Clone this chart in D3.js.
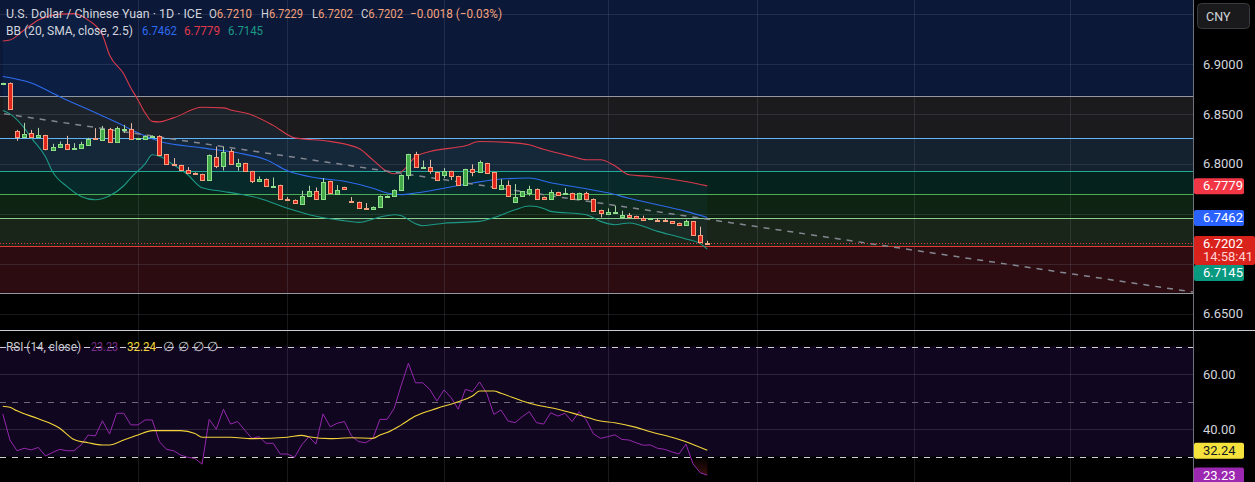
<!DOCTYPE html>
<html>
<head>
<meta charset="utf-8">
<script src="https://cdn.jsdelivr.net/npm/d3@7/dist/d3.min.js"></script>
<style>
  html, body { margin: 0; padding: 0; background: #000; }
  svg { display: block; font-family: Roboto, "Noto Sans", sans-serif; }
</style>
</head>
<body>
<svg id="chart" width="1255" height="482"></svg>
<script>
// daily candles, USD/CNY
const opens = [6.8805, 6.8810, 6.8330, 6.8273, 6.8310, 6.8265, 6.8285, 6.8133, 6.8167, 6.8200,
  6.8157, 6.8157, 6.8193, 6.8255, 6.8240, 6.8347, 6.8217, 6.8347, 6.8353, 6.8255,
  6.8257, 6.8280, 6.8283, 6.8097, 6.8000, 6.7987, 6.7940, 6.7905, 6.7897, 6.7837,
  6.8073, 6.7987, 6.8125, 6.7987, 6.8007, 6.7927, 6.7827, 6.7850, 6.7777, 6.7787,
  6.7643, 6.7640, 6.7603, 6.7677, 6.7730, 6.7647, 6.7827, 6.7703, 6.7767, 6.7630,
  6.7617, 6.7560, 6.7547, 6.7567, 6.7677, 6.7677, 6.7737, 6.7890, 6.8097, 6.7965,
  6.7967, 6.7917, 6.7887, 6.7927, 6.7877, 6.7790, 6.7947, 6.7915, 6.8007, 6.7913,
  6.7750, 6.7790, 6.7623, 6.7670, 6.7713, 6.7750, 6.7670, 6.7643, 6.7717, 6.7700,
  6.7707, 6.7643, 6.7707, 6.7650, 6.7537, 6.7500, 6.7517, 6.7473, 6.7490, 6.7477,
  6.7457, 6.7450, 6.7440, 6.7437, 6.7423, 6.7407, 6.7387, 6.7423, 6.7287, 6.7210];
const highs = [6.8812, 6.8815, 6.8340, 6.8410, 6.8340, 6.8360, 6.8290, 6.8200, 6.8223, 6.8280,
  6.8207, 6.8220, 6.8260, 6.8357, 6.8380, 6.8360, 6.8373, 6.8390, 6.8407, 6.8260,
  6.8285, 6.8285, 6.8285, 6.8097, 6.8057, 6.7990, 6.7967, 6.7915, 6.7900, 6.8093,
  6.8173, 6.8173, 6.8147, 6.8050, 6.8010, 6.7930, 6.7873, 6.7853, 6.7863, 6.7790,
  6.7667, 6.7643, 6.7730, 6.7780, 6.7763, 6.7857, 6.7830, 6.7787, 6.7770, 6.7667,
  6.7620, 6.7607, 6.7573, 6.7683, 6.7683, 6.7743, 6.7893, 6.8100, 6.8120, 6.8033,
  6.8040, 6.7920, 6.7957, 6.7930, 6.7880, 6.7950, 6.7995, 6.8033, 6.8010, 6.7915,
  6.7847, 6.7833, 6.7797, 6.7725, 6.7780, 6.7753, 6.7672, 6.7740, 6.7720, 6.7757,
  6.7710, 6.7710, 6.7720, 6.7653, 6.7540, 6.7553, 6.7580, 6.7530, 6.7507, 6.7480,
  6.7480, 6.7456, 6.7457, 6.7457, 6.7425, 6.7410, 6.7440, 6.7425, 6.7370, 6.7229];
const lows = [6.8800, 6.8545, 6.8230, 6.8270, 6.8265, 6.8263, 6.8135, 6.8130, 6.8165, 6.8150,
  6.8155, 6.8153, 6.8190, 6.8240, 6.8240, 6.8215, 6.8215, 6.8310, 6.8255, 6.8253,
  6.8255, 6.8278, 6.8095, 6.7995, 6.7993, 6.7935, 6.7908, 6.7893, 6.7835, 6.7835,
  6.7957, 6.7933, 6.7990, 6.7930, 6.7925, 6.7807, 6.7825, 6.7775, 6.7775, 6.7645,
  6.7635, 6.7605, 6.7600, 6.7675, 6.7645, 6.7645, 6.7700, 6.7700, 6.7745, 6.7620,
  6.7550, 6.7550, 6.7545, 6.7565, 6.7675, 6.7675, 6.7735, 6.7843, 6.7965, 6.7963,
  6.7900, 6.7835, 6.7857, 6.7837, 6.7788, 6.7788, 6.7875, 6.7913, 6.7905, 6.7748,
  6.7748, 6.7680, 6.7620, 6.7668, 6.7680, 6.7650, 6.7645, 6.7640, 6.7685, 6.7698,
  6.7640, 6.7640, 6.7640, 6.7530, 6.7463, 6.7498, 6.7515, 6.7460, 6.7470, 6.7455,
  6.7430, 6.7447, 6.7425, 6.7425, 6.7398, 6.7385, 6.7385, 6.7285, 6.7210, 6.7202];
const closes = [6.8810, 6.8550, 6.8270, 6.8300, 6.8270, 6.8290, 6.8140, 6.8165, 6.8200, 6.8153,
  6.8160, 6.8197, 6.8253, 6.8245, 6.8347, 6.8217, 6.8357, 6.8350, 6.8257, 6.8258,
  6.8283, 6.8283, 6.8097, 6.8000, 6.7995, 6.7937, 6.7910, 6.7895, 6.7837, 6.8087,
  6.7987, 6.8123, 6.7995, 6.8013, 6.7930, 6.7823, 6.7850, 6.7777, 6.7780, 6.7647,
  6.7637, 6.7607, 6.7680, 6.7730, 6.7647, 6.7817, 6.7703, 6.7740, 6.7747, 6.7623,
  6.7553, 6.7553, 6.7570, 6.7680, 6.7680, 6.7740, 6.7890, 6.8097, 6.7967, 6.7967,
  6.7923, 6.7837, 6.7927, 6.7877, 6.7790, 6.7947, 6.7915, 6.8015, 6.7907, 6.7750,
  6.7790, 6.7683, 6.7670, 6.7723, 6.7750, 6.7653, 6.7647, 6.7717, 6.7687, 6.7703,
  6.7643, 6.7707, 6.7643, 6.7533, 6.7503, 6.7520, 6.7520, 6.7490, 6.7473, 6.7457,
  6.7433, 6.7453, 6.7427, 6.7427, 6.7400, 6.7387, 6.7423, 6.7287, 6.7220, 6.7202];

// Bollinger bands, [bar index, price]
const bbBasis = [[0, 6.8875], [4, 6.8810], [8, 6.8673], [14, 6.8480], [17, 6.8380], [19, 6.8310],
  [21, 6.8250], [22, 6.8225], [28, 6.8160], [33, 6.8110], [37, 6.8040], [40, 6.7930], [44, 6.7860],
  [48, 6.7825], [52, 6.7755], [54, 6.7707], [56, 6.7690], [58, 6.7707], [62, 6.7755], [66, 6.7807],
  [70, 6.7847], [74, 6.7857], [77, 6.7810], [82, 6.7750], [85, 6.7710], [88, 6.7655], [92, 6.7590],
  [96, 6.7523], [99, 6.7462]];
const bbUpper = [[0, 6.9230], [1, 6.9240], [3, 6.9340], [5, 6.9440], [8, 6.9500], [10, 6.9505],
  [12, 6.9440], [14, 6.9290], [15, 6.9090], [17, 6.8900], [18, 6.8760], [19, 6.8640], [20, 6.8510],
  [21, 6.8425], [22, 6.8420], [24, 6.8460], [28, 6.8567], [31, 6.8560], [32, 6.8540], [35, 6.8490],
  [38, 6.8385], [41, 6.8260], [46, 6.8225], [50, 6.8155], [52, 6.8040], [54, 6.7923], [55, 6.7900],
  [56, 6.7920], [58, 6.8070], [60, 6.8123], [65, 6.8180], [67, 6.8223], [71, 6.8215], [74, 6.8190],
  [76, 6.8145], [80, 6.8073], [82, 6.8040], [84, 6.8040], [86, 6.7980], [88, 6.7890], [91, 6.7873],
  [96, 6.7823], [99, 6.7779]];
const bbLower = [[0, 6.8535], [1, 6.8500], [3, 6.8360], [4, 6.8260], [6, 6.8070], [7, 6.7920],
  [9, 6.7773], [11, 6.7673], [13, 6.7640], [15, 6.7680], [17, 6.7780], [18, 6.7860], [20, 6.8000],
  [21, 6.8090], [22, 6.8075], [24, 6.7990], [26, 6.7890], [28, 6.7760], [31, 6.7723], [33, 6.7700],
  [36, 6.7655], [40, 6.7555], [44, 6.7475], [48, 6.7430], [50, 6.7413], [53, 6.7467], [55, 6.7490],
  [56, 6.7480], [58, 6.7400], [59, 6.7380], [62, 6.7405], [67, 6.7423], [69, 6.7460], [72, 6.7540],
  [74, 6.7577], [76, 6.7553], [77, 6.7523], [82, 6.7490], [84, 6.7423], [86, 6.7390], [88, 6.7407],
  [92, 6.7323], [96, 6.7247], [98, 6.7200], [99, 6.7145]];

// RSI(14) per bar and its moving average ([bar index, value])
const rsi = [45.5, 36.0, 32.1, 33.0, 32.4, 33.3, 30.2, 31.5, 32.6, 32.1,
  32.1, 34.2, 37.8, 37.5, 43.0, 38.2, 45.7, 45.7, 41.5, 41.5,
  43.3, 43.3, 35.4, 32.6, 32.1, 30.5, 29.7, 29.3, 27.2, 43.5,
  39.9, 47.2, 41.8, 42.7, 39.6, 36.6, 37.2, 34.8, 34.8, 30.9,
  30.9, 29.7, 34.2, 37.2, 34.5, 45.5, 40.8, 42.1, 42.7, 37.5,
  35.4, 35.0, 36.6, 43.5, 43.5, 47.5, 56.0, 63.9, 56.8, 56.8,
  54.4, 50.2, 54.2, 51.4, 47.2, 54.4, 53.6, 57.1, 53.0, 45.3,
  46.9, 42.9, 42.3, 44.5, 46.3, 42.3, 41.8, 45.9, 44.7, 45.7,
  42.7, 46.3, 43.3, 38.2, 36.6, 37.2, 37.9, 36.2, 36.0, 35.0,
  34.1, 34.2, 33.0, 32.6, 31.7, 30.9, 34.5, 27.3, 24.1, 23.23];
const rsiMa = [[0, 48.3], [1, 47.9], [2, 46.6], [5, 43.7], [8, 40.3], [10, 36.2], [12, 35.0],
  [14, 34.2], [15, 34.2], [17, 36.0], [19, 37.8], [21, 39.4], [25, 39.4], [27, 38.4], [28, 37.0],
  [32, 37.0], [35, 36.5], [40, 37.0], [42, 37.7], [43, 37.2], [46, 36.5], [49, 36.8], [52, 36.6],
  [53, 37.8], [54, 38.7], [56, 41.5], [58, 44.7], [61, 47.5], [64, 49.9], [66, 52.0], [67, 53.8],
  [69, 53.8], [70, 53.0], [73, 50.2], [75, 48.7], [78, 47.2], [81, 45.1], [84, 42.9], [86, 42.3],
  [89, 40.6], [91, 39.0], [94, 37.0], [96, 35.4], [99, 32.24]];

// fibonacci retracement drawing: anchors (bar index) and prices
const fibAnchorIdx = [-16.5, 168];
const fibPrices = [6.8680, 6.6707];
const fibLevels = [1, 0.786, 0.618, 0.5, 0.382, 0.236, 0];
const fibLineColors = ["#9598a1", "#64b5f6", "#22ab94", "#4caf50", "#8fd18f", "#e53935", "#9598a1"];
const fibBandColors = ["#1b1b1e", "#14212f", "#06221d", "#0f2312", "#192518", "#2c0c11"];

// axis ticks
const priceGrid = [6.65, 6.70, 6.75, 6.80, 6.85, 6.90, 6.95];
const priceLabels = [6.65, 6.80, 6.85, 6.90];
const rsiGrid = [40, 60];
const rsiLevels = [70, 50, 30];
const monthIdx = [19, 40, 62, 85, 106, 128, 150];

const W = 1255;
const H = 482;
const AXIS_X = 1193;
const SPLIT = 330;

const svg = d3.select("#chart");
const x = d3.scaleLinear().domain([0, 99]).range([2.8, 707.3]);
const yPrice = d3.scaleLinear().domain([6.65, 6.90]).range([313.5, 64]);
const yRsi = d3.scaleLinear().domain([40, 60]).range([429, 374]);
const fibPrice = (lv) => fibPrices[1] + lv * (fibPrices[0] - fibPrices[1]);

const defs = svg.append("defs");
defs.append("clipPath").attr("id", "clip-price")
  .append("rect").attr("x", 0).attr("y", 0).attr("width", AXIS_X).attr("height", SPLIT);
defs.append("clipPath").attr("id", "clip-rsi")
  .append("rect").attr("x", 0).attr("y", SPLIT + 1).attr("width", AXIS_X).attr("height", H - SPLIT - 1);
defs.append("clipPath").attr("id", "clip-os")
  .append("rect").attr("x", 0).attr("y", yRsi(30)).attr("width", AXIS_X).attr("height", H - yRsi(30));
const osGrad = defs.append("linearGradient").attr("id", "os-grad")
  .attr("gradientUnits", "userSpaceOnUse")
  .attr("x1", 0).attr("x2", 0).attr("y1", yRsi(30)).attr("y2", yRsi(20));
osGrad.append("stop").attr("offset", 0).attr("stop-color", "#e8402a").attr("stop-opacity", 0);
osGrad.append("stop").attr("offset", 1).attr("stop-color", "#e8402a").attr("stop-opacity", 0.35);

svg.append("rect").attr("width", W).attr("height", H).attr("fill", "#000");

// ---------- price pane ----------
const pricePane = svg.append("g").attr("clip-path", "url(#clip-price)");

pricePane.append("rect")
  .attr("x", 0).attr("y", 0).attr("width", AXIS_X)
  .attr("height", yPrice(fibPrice(1)))
  .attr("fill", "#0b1838");

pricePane.append("g").selectAll("rect")
  .data(fibLevels.slice(0, -1))
  .join("rect")
  .attr("x", 0)
  .attr("width", AXIS_X)
  .attr("y", (lv) => yPrice(fibPrice(lv)))
  .attr("height", (lv, i) => yPrice(fibPrice(fibLevels[i + 1])) - yPrice(fibPrice(lv)))
  .attr("fill", (lv, i) => fibBandColors[i]);

const gridColor = "rgba(150,155,170,0.17)";
pricePane.append("g").selectAll("line")
  .data(priceGrid)
  .join("line")
  .attr("x1", 0).attr("x2", AXIS_X)
  .attr("y1", (p) => Math.round(yPrice(p)) + 0.5)
  .attr("y2", (p) => Math.round(yPrice(p)) + 0.5)
  .attr("stroke", gridColor);

pricePane.append("g").selectAll("line")
  .data(monthIdx)
  .join("line")
  .attr("x1", (i) => Math.round(x(i)) + 0.5)
  .attr("x2", (i) => Math.round(x(i)) + 0.5)
  .attr("y1", 0).attr("y2", SPLIT)
  .attr("stroke", gridColor);

pricePane.append("g").selectAll("line")
  .data(fibLevels)
  .join("line")
  .attr("x1", 0).attr("x2", AXIS_X)
  .attr("y1", (lv) => Math.round(yPrice(fibPrice(lv))) + 0.5)
  .attr("y2", (lv) => Math.round(yPrice(fibPrice(lv))) + 0.5)
  .attr("stroke", (lv, i) => fibLineColors[i])
  .attr("stroke-width", 1.2);

// band fill between upper and lower
const bandLine = d3.line()
  .x((d) => x(d[0]))
  .y((d) => yPrice(d[1]));
pricePane.append("path")
  .attr("d", bandLine([...bbUpper, ...bbLower.slice().reverse()]) + "Z")
  .attr("fill", "rgba(33,150,243,0.06)");

const smoothLine = d3.line()
  .x((d) => x(d[0]))
  .y((d) => yPrice(d[1]))
  .curve(d3.curveMonotoneX);

[[bbUpper, "#d83a4c"], [bbBasis, "#2e6bf0"], [bbLower, "#1c9a86"]].forEach(([series, color]) => {
  pricePane.append("path")
    .attr("d", smoothLine(series))
    .attr("fill", "none")
    .attr("stroke", color)
    .attr("stroke-width", 1.1);
});

// fib trend line (dashed)
pricePane.append("line")
  .attr("x1", x(fibAnchorIdx[0])).attr("y1", yPrice(fibPrices[0]))
  .attr("x2", x(fibAnchorIdx[1])).attr("y2", yPrice(fibPrices[1]))
  .attr("stroke", "#83868f")
  .attr("stroke-width", 1.5)
  .attr("stroke-dasharray", "6,6");

// last price line
const lastClose = closes[closes.length - 1];
pricePane.append("line")
  .attr("x1", 0).attr("x2", AXIS_X)
  .attr("y1", Math.round(yPrice(lastClose)) + 0.5)
  .attr("y2", Math.round(yPrice(lastClose)) + 0.5)
  .attr("stroke", "#f23645")
  .attr("stroke-dasharray", "1,2");

// candles
const candles = closes.map((c, i) => ({ i, o: opens[i], h: highs[i], l: lows[i], c }));
const upFill = "#43a847", upStroke = "#8fdf8c", upWick = "#a9d4a6";
const dnFill = "#e0261c", dnStroke = "#f5a07e", dnWick = "#e6b9a9";

const candleLayer = pricePane.append("g");
candleLayer.selectAll("line")
  .data(candles)
  .join("line")
  .attr("x1", (d) => Math.round(x(d.i)) + 0.5)
  .attr("x2", (d) => Math.round(x(d.i)) + 0.5)
  .attr("y1", (d) => yPrice(d.h))
  .attr("y2", (d) => yPrice(d.l))
  .attr("stroke", (d) => (d.c >= d.o ? upWick : dnWick));

candleLayer.selectAll("rect")
  .data(candles)
  .join("rect")
  .attr("x", (d) => Math.round(x(d.i)) - 1.5)
  .attr("width", 4)
  .attr("y", (d) => Math.round(yPrice(Math.max(d.o, d.c))) + 0.5)
  .attr("height", (d) => Math.max(1, Math.round(Math.abs(yPrice(d.o) - yPrice(d.c)))))
  .attr("fill", (d) => (d.c >= d.o ? upFill : dnFill))
  .attr("stroke", (d) => (d.c >= d.o ? upStroke : dnStroke));

// ---------- RSI pane ----------
const rsiPane = svg.append("g").attr("clip-path", "url(#clip-rsi)");

rsiPane.append("rect")
  .attr("x", 0).attr("width", AXIS_X)
  .attr("y", yRsi(70)).attr("height", yRsi(30) - yRsi(70))
  .attr("fill", "#11061f");

rsiPane.append("g").selectAll("line")
  .data(rsiGrid)
  .join("line")
  .attr("x1", 0).attr("x2", AXIS_X)
  .attr("y1", (v) => Math.round(yRsi(v)) + 0.5)
  .attr("y2", (v) => Math.round(yRsi(v)) + 0.5)
  .attr("stroke", "rgba(150,140,170,0.22)");

rsiPane.append("g").selectAll("line")
  .data(monthIdx)
  .join("line")
  .attr("x1", (i) => Math.round(x(i)) + 0.5)
  .attr("x2", (i) => Math.round(x(i)) + 0.5)
  .attr("y1", SPLIT).attr("y2", H)
  .attr("stroke", gridColor);

rsiPane.append("g").selectAll("line")
  .data(rsiLevels)
  .join("line")
  .attr("x1", 0).attr("x2", AXIS_X)
  .attr("y1", (v) => Math.round(yRsi(v)) + 0.5)
  .attr("y2", (v) => Math.round(yRsi(v)) + 0.5)
  .attr("stroke", (v) => (v === 50 ? "#6e6a78" : "#cfcfcf"))
  .attr("stroke-dasharray", "6,6");

rsiPane.append("path")
  .attr("clip-path", "url(#clip-os)")
  .attr("d", d3.area().x((v, i) => x(i)).y0(yRsi(30)).y1((v) => yRsi(v))(rsi))
  .attr("fill", "url(#os-grad)");

rsiPane.append("path")
  .attr("d", d3.line().x((v, i) => x(i)).y((v) => yRsi(v))(rsi))
  .attr("fill", "none")
  .attr("stroke", "#9428ad")
  .attr("stroke-width", 1);

rsiPane.append("path")
  .attr("d", d3.line().x((d) => x(d[0])).y((d) => yRsi(d[1])).curve(d3.curveMonotoneX)(rsiMa))
  .attr("fill", "none")
  .attr("stroke", "#f2d43a")
  .attr("stroke-width", 1.1);

// ---------- right axis ----------
svg.append("rect").attr("x", AXIS_X).attr("y", 0).attr("width", W - AXIS_X).attr("height", H).attr("fill", "#000");

const priceAxis = svg.append("g")
  .attr("transform", `translate(${AXIS_X},0)`)
  .call(d3.axisRight(yPrice).tickValues(priceLabels).tickSize(0).tickPadding(10).tickFormat(d3.format(".4f")));
const rsiAxis = svg.append("g")
  .attr("transform", `translate(${AXIS_X},0)`)
  .call(d3.axisRight(yRsi).tickValues(rsiGrid).tickSize(0).tickPadding(10).tickFormat(d3.format(".2f")));
[priceAxis, rsiAxis].forEach((ax) => {
  ax.select(".domain").remove();
  ax.selectAll("text")
    .attr("fill", "#d1d4dc")
    .attr("font-size", 13)
    .attr("font-family", "Roboto, 'Noto Sans', sans-serif");
});

svg.append("line")
  .attr("x1", AXIS_X + 0.5).attr("x2", AXIS_X + 0.5)
  .attr("y1", 0).attr("y2", H)
  .attr("stroke", "#6f727c");
svg.append("line")
  .attr("x1", 0).attr("x2", W)
  .attr("y1", SPLIT + 0.5).attr("y2", SPLIT + 0.5)
  .attr("stroke", "#c9ccd4");

// value tags on the axis, pushed down where they would overlap
const lastOf = (series) => series[series.length - 1][1];
const priceTags = [
  { v: lastOf(bbUpper), fill: "#f23645", text: "#ffffff" },
  { v: lastOf(bbBasis), fill: "#2962ff", text: "#ffffff" },
  { v: lastClose, fill: "#d9221c", text: "#ffffff", sub: "14:58:41", wide: true },
  { v: lastOf(bbLower), fill: "#089981", text: "#ffffff" }
];
const rsiTags = [
  { v: lastOf(rsiMa), fill: "#f5e23c", text: "#131722" },
  { v: rsi[rsi.length - 1], fill: "#9c27b0", text: "#ffffff" }
];

function drawTags(tags, scale, fmt) {
  let floor = -Infinity;
  tags.slice().sort((a, b) => scale(a.v) - scale(b.v)).forEach((t) => {
    const h = t.sub ? 29 : 16;
    const top = Math.max(scale(t.v) - 7.5, floor);
    floor = top + h;
    const g = svg.append("g");
    g.append("rect")
      .attr("x", AXIS_X + 1).attr("y", top)
      .attr("width", t.wide ? W - AXIS_X - 1 : 50).attr("height", h)
      .attr("rx", 2)
      .attr("fill", t.fill);
    g.append("text")
      .attr("x", AXIS_X + 10).attr("y", top + 12)
      .attr("fill", t.text).attr("font-size", 13)
      .text(d3.format(fmt)(t.v));
    if (t.sub) {
      g.append("text")
        .attr("x", AXIS_X + 10).attr("y", top + 25)
        .attr("fill", "#ffd2d2").attr("font-size", 13)
        .text(t.sub);
    }
  });
}
drawTags(priceTags, yPrice, ".4f");
drawTags(rsiTags, yRsi, ".2f");

// currency box
svg.append("rect")
  .attr("x", 1197.5).attr("y", 3.5).attr("width", 52).attr("height", 25).attr("rx", 4)
  .attr("fill", "#1a1a1c").attr("stroke", "#3a3b40");
svg.append("text")
  .attr("x", 1206).attr("y", 20.5)
  .attr("fill", "#d1d4dc").attr("font-size", 12.5)
  .text("CNY");

// ---------- legends ----------
const fmt4 = d3.format(".4f");
const last = candles[candles.length - 1];
const change = closes[99] - closes[98];
const minus = (s) => s.replace("-", "\u2212");
const ohlcColor = "#f4a27c";
const labelColor = "#d1d4dc";
// [x, y, prefix, text, colour, width]
const legendRows = [
  [6, 18, "", "U.S. Dollar / Chinese Yuan \u00b7 1D \u00b7 ICE", labelColor, 196],
  [209, 18, "O", fmt4(last.o), ohlcColor, 43],
  [261, 18, "H", fmt4(last.h), ohlcColor, 42],
  [312, 18, "L", fmt4(last.l), ohlcColor, 41],
  [361, 18, "C", fmt4(last.c), ohlcColor, 42],
  [410, 18, "", minus(d3.format(".4f")(change)) + " (" + minus(d3.format(".2%")(change / closes[98])) + ")", ohlcColor, 92],
  [6, 35, "", "BB (20, SMA, close, 2.5)", labelColor, 127],
  [142, 35, "", fmt4(lastOf(bbBasis)), "#2e6bf0", 35],
  [184, 35, "", fmt4(lastOf(bbUpper)), "#e0394c", 36],
  [228, 35, "", fmt4(lastOf(bbLower)), "#1c9a86", 35],
  [6, 351, "", "RSI (14, close)", "#c8cad2", 75],
  [91, 351, "", d3.format(".2f")(rsi[99]), "#7a2c8c", 27],
  [127, 351, "", d3.format(".2f")(lastOf(rsiMa)), "#f2d43a", 29],
  [163, 351, "", "\u2205", "#c8cad2", 0], [178, 351, "", "\u2205", "#c8cad2", 0],
  [193, 351, "", "\u2205", "#c8cad2", 0], [207, 351, "", "\u2205", "#c8cad2", 0]
];
svg.append("g").selectAll("text")
  .data(legendRows)
  .join("text")
  .attr("x", (d) => d[0])
  .attr("y", (d) => d[1])
  .attr("font-size", 13)
  .each(function (d) {
    const t = d3.select(this);
    if (d[2]) t.append("tspan").attr("fill", labelColor).text(d[2]);
    t.append("tspan").attr("fill", d[4]).text(d[3]);
    if (d[5]) t.attr("textLength", d[5]).attr("lengthAdjust", "spacingAndGlyphs");
  });
</script>
</body>
</html>
